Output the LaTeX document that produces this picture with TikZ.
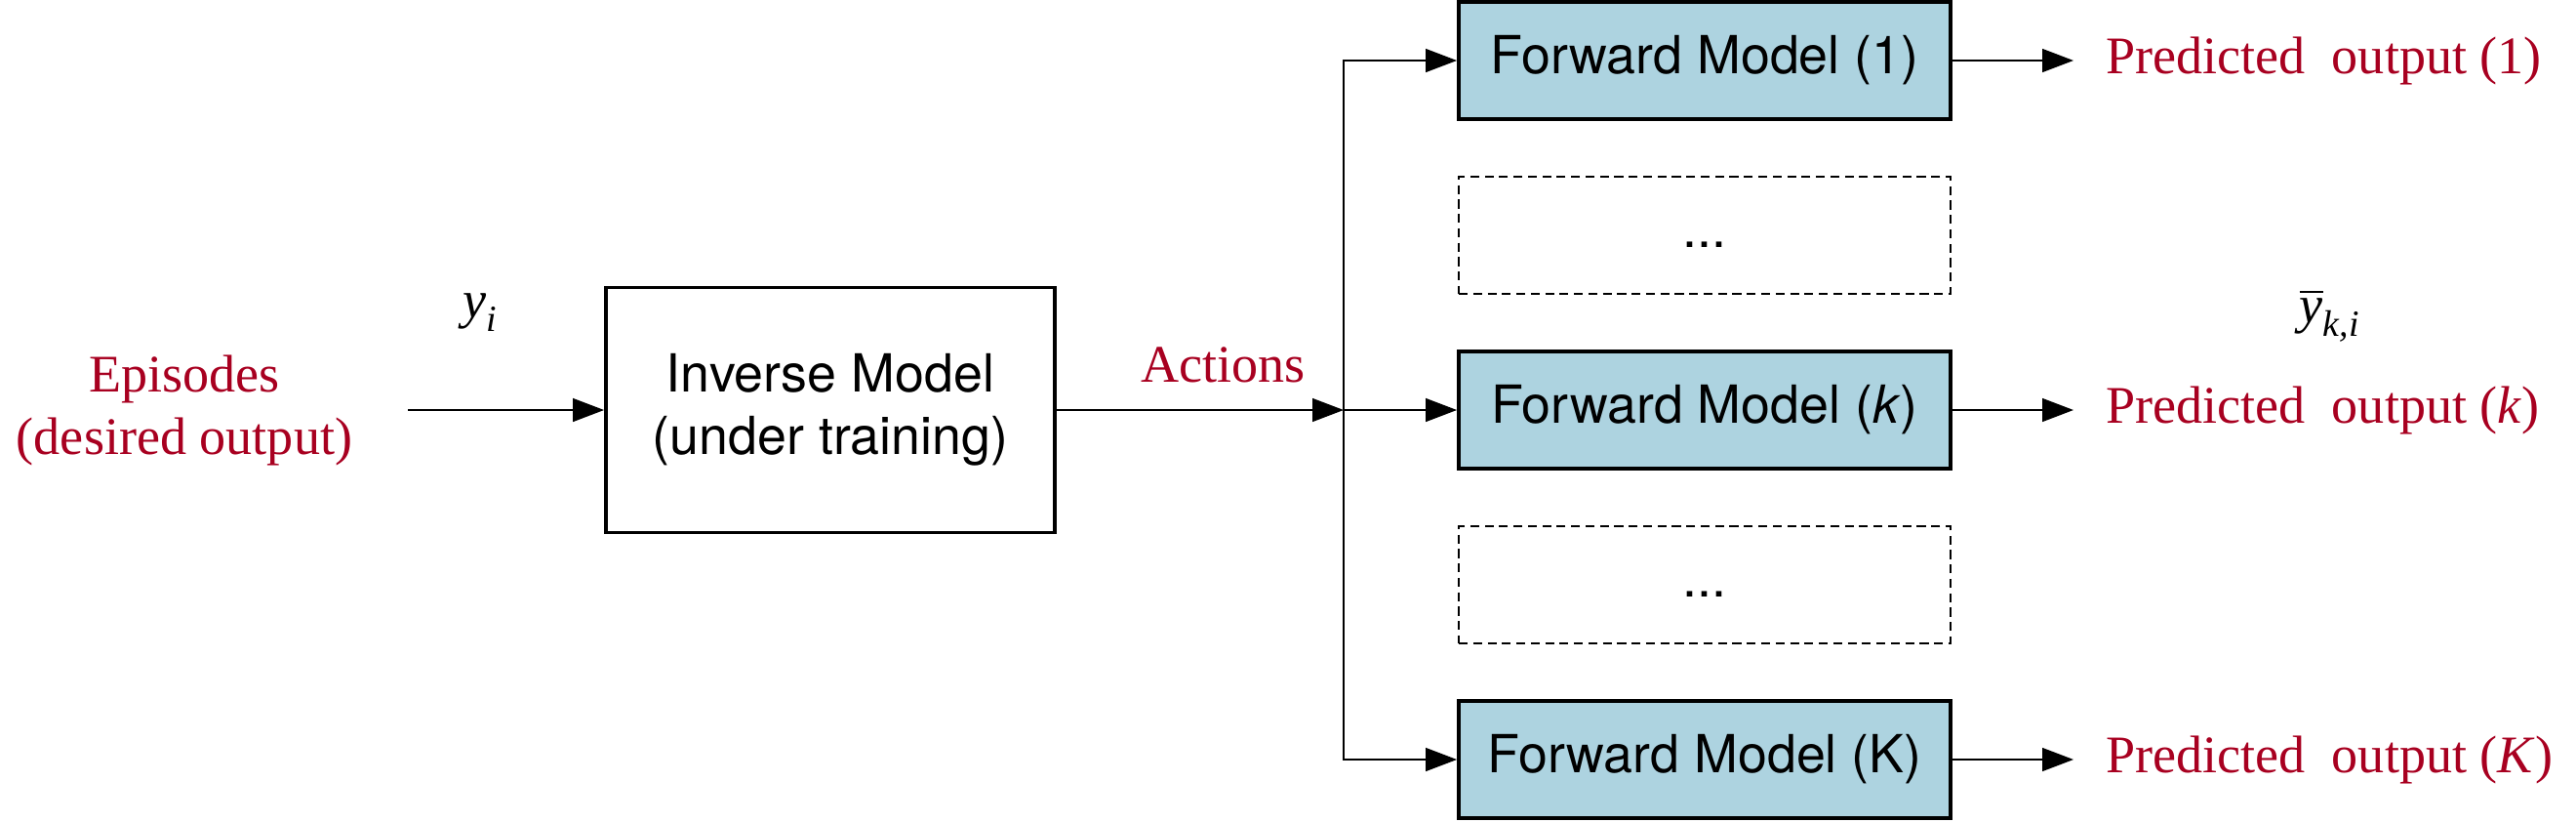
\documentclass[tikz,border=0pt]{standalone}
\usepackage{amsmath}
\usepackage{fontspec}
\setmainfont{Liberation Serif}
\newfontfamily\helv{TeX Gyre Heros}
\usepackage{tikz}
\usetikzlibrary{arrows.meta}
\usetikzlibrary{positioning}
\definecolor{modelblue}{RGB}{173,211,224}
\definecolor{labelred}{RGB}{168,0,32}
\tikzset{auto,>={Triangle[length=3.2mm,width=2.4mm]}, line width=0.8pt, font=\fontsize{15.4}{18.2}\selectfont}
\tikzstyle{block} = [draw, line width=1.1pt, rectangle, minimum height=1.2cm, minimum width=5.04cm, text centered, align=center, font=\helv\fontsize{15.3}{18.2}\selectfont]
\tikzstyle{fwd} = [block, fill=modelblue]
\tikzstyle{dotsbox} = [block, dashed, line width=0.5pt, dash pattern=on 2.6pt off 1.6pt]
\tikzstyle{redtext} = [text=labelred, align=center]
\tikzstyle{input} = [coordinate]

\begin{document}
\begin{tikzpicture}
		\useasboundingbox (0,0) rectangle (26.4,-8.42);
		\node [redtext] (episodes) at (1.89,-4.20) {Episodes\\(desired output)};
		\node [input] (input) at (4.18,-4.20) {};
		\node (yi) at (4.93,-3.20) {$\textit{y}_{\textit{i}}$};
		\node [block, minimum width=4.6cm, minimum height=2.51cm] (inverse) at (8.51,-4.20) {Inverse Model\\(under training)};
		\coordinate (junction) at (13.77,-4.20);

		\node [fwd] (fm1) at (17.47,-0.62) {Forward Model (1)};
		\node [dotsbox] (dots1) at (17.47,-2.41) {\strut...};
		\node [fwd] (fmk) at (17.47,-4.20) {Forward Model (\textit{k})};
		\node [dotsbox] (dots2) at (17.47,-5.99) {\strut...};
		\node [fwd] (fmK) at (17.47,-7.78) {Forward Model (K)};

		\node [redtext, anchor=west] (out1) at (21.46,-0.62) {Predicted\ \ output (1)};
		\node [redtext, anchor=west] (outk) at (21.46,-4.20) {Predicted\ \ output (\textit{k})};
		\node [redtext, anchor=west] (outK) at (21.46,-7.78) {Predicted\ \ output (\textit{K})};
		\node (ybar) at (23.88,-3.23) {$\overline{\textit{y}}_{\textit{k,i}}$};

		\draw [->] (input) -- (inverse);
		\draw [->] (inverse) -- node [redtext, above=1.6mm, pos=.58] (actions) {Actions} (junction);
		\draw [->] (junction) |- (fm1);
		\draw [->] (junction) -- (fmk);
		\draw [->] (junction) |- (fmK);
		\draw [->, shorten >=2.1mm] (fm1) -- (out1);
		\draw [->, shorten >=2.1mm] (fmk) -- (outk);
		\draw [->, shorten >=2.1mm] (fmK) -- (outK);
	\end{tikzpicture}
\end{document}
